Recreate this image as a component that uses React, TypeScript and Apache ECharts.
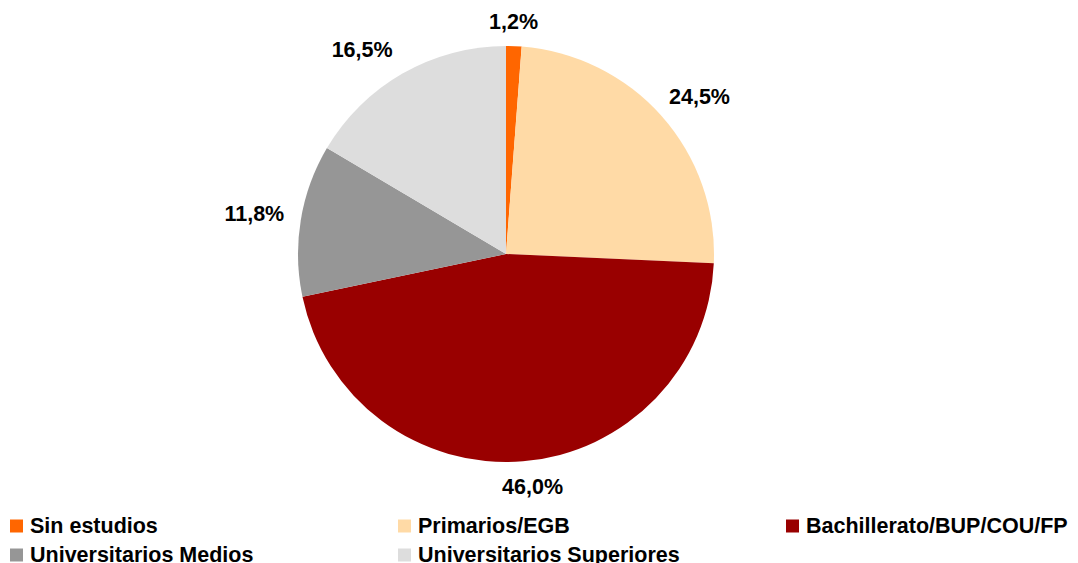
import React, { useEffect, useRef } from "react";
import * as echarts from "echarts";

const categories = [
  "Sin estudios",
  "Primarios/EGB",
  "Bachillerato/BUP/COU/FP",
  "Universitarios Medios",
  "Universitarios Superiores",
];
const values = [1.2, 24.5, 46.0, 11.8, 16.5];
const colors = ["#FF6600", "#FFDAA6", "#990000", "#969696", "#DDDDDD"];

// legend layout (column left, row top)
const legendLeft = [10, 398, 786, 10, 398];
const legendTop = [515, 515, 515, 544, 544];
// label nudges (best-fit placement)
const labelDx = [-2, 5, 6, -3, -19];
const labelDy = [20, 10, -18, 1, 15];

const FONT = "'Liberation Sans', Arial, sans-serif";

export default function App() {
  const ref = useRef<HTMLDivElement>(null);
  useEffect(() => {
    document.body.style.margin = "0";
    const chart = echarts.init(ref.current!, null, { renderer: "svg" });
    const data = categories.map((name, i) => ({
      name,
      value: values[i],
      itemStyle: { color: colors[i] },
    }));
    chart.setOption({
      animation: false,
      backgroundColor: "#ffffff",
      legend: categories.map((name, i) => ({
        data: [{ name, itemStyle: { color: colors[i] } }],
        left: legendLeft[i],
        top: legendTop[i],
        padding: 0,
        icon: "rect",
        itemWidth: 13,
        itemHeight: 13,
        itemGap: 0,
        selectedMode: false,
        textStyle: {
          fontFamily: FONT,
          fontWeight: "bold",
          fontSize: 21.5,
          lineHeight: 18,
          color: "#000",
          padding: [0, 0, 0, 2],
        },
      })),
      series: [
        {
          type: "pie",
          center: [506, 254],
          radius: 208,
          startAngle: 90,
          clockwise: true,
          label: { show: false },
          labelLine: { show: false },
          emphasis: { disabled: true },
          data,
        },
        {
          type: "pie",
          center: [506, 254],
          radius: [208, 290],
          startAngle: 90,
          clockwise: true,
          silent: true,
          itemStyle: { color: "transparent" },
          emphasis: { disabled: true },
          labelLine: { show: false },
          labelLayout: (p: any) => ({
            dx: labelDx[p.dataIndex],
            dy: labelDy[p.dataIndex],
          }),
          label: {
            show: true,
            position: "inside",
            formatter: (p: any) => p.value.toFixed(1).replace(".", ",") + "%",
            fontFamily: FONT,
            fontWeight: "bold",
            fontSize: 21.5,
            color: "#000",
          },
          data: categories.map((name, i) => ({
            name,
            value: values[i],
            itemStyle: { color: "transparent" },
          })),
        },
      ],
    });
    return () => chart.dispose();
  }, []);
  return <div ref={ref} style={{ width: 1078, height: 563 }} />;
}
